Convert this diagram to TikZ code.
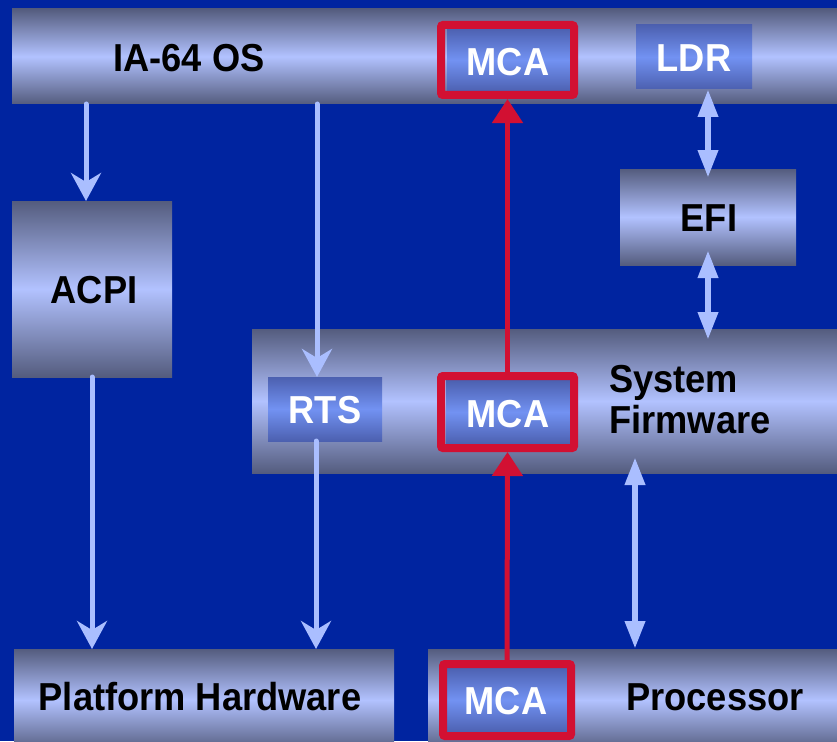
\documentclass[tikz,border=0pt]{standalone}
\usepackage{fontspec}
\setmainfont{Liberation Sans}
\newfontfamily\dfont[FakeStretch=0.93]{Liberation Sans}
\usetikzlibrary{arrows.meta,calc}
\definecolor{bg}{RGB}{0,36,160}
\definecolor{gdark}{RGB}{84,92,126}
\definecolor{glight}{RGB}{178,194,255}
\definecolor{bdark}{RGB}{76,96,176}
\definecolor{blight}{RGB}{114,146,242}
\definecolor{arr}{RGB}{170,190,255}
\definecolor{mcared}{RGB}{210,16,50}
\tikzset{
  sz/.style n args={2}{minimum width=#1pt, minimum height=#2pt},
  greybox/.style={anchor=north west, inner sep=0pt, outer sep=0pt, draw=none,
    top color=gdark, bottom color=gdark, middle color=glight},
  bluebox/.style={anchor=north west, inner sep=0pt, outer sep=0pt, draw=none,
    top color=bdark, bottom color=bdark, middle color=blight},
  redbox/.style={anchor=north west, inner sep=0pt, draw=mcared, line width=8pt, rounded corners=2pt},
  txt/.style={font=\dfont\fontsize{39}{41}\selectfont\bfseries, inner sep=0pt, anchor=base, text=black},
  wtxt/.style={txt, text=white},
  lt/.style={draw=arr, line width=5pt, line cap=round, -{Stealth[length=28pt,width=30pt,inset=9pt]}},
  dbl/.style={draw=arr, line width=6.5pt, {Triangle[length=28pt,width=19pt]}-{Triangle[length=28pt,width=19pt]}},
  redarr/.style={draw=mcared, line width=5pt, -{Triangle[length=24pt,width=30pt]}}
}
\begin{document}
\begin{tikzpicture}[x=1pt, y=-1pt]
\useasboundingbox (0,0) rectangle (837,741);
\fill[bg] (0,0) rectangle (837,741);
% grey boxes
\node[greybox, sz={830}{95}] (os) at (12,9) {};
\node[greybox, sz={160}{176}] (acpi) at (12,201) {};
\node[greybox, sz={176}{96}] (efi) at (620,169) {};
\node[greybox, sz={590}{144}] (sfw) at (252,329) {};
\node[greybox, sz={380}{102}] (ph) at (14,649) {};
\node[greybox, sz={415}{102}] (proc) at (428,649) {};
% blue boxes
\node[bluebox, sz={124}{64}] (mcaTb) at (447,28) {};
\node[bluebox, sz={116}{64}] (ldr) at (636,25) {};
\node[bluebox, sz={114}{64}] (rts) at (268,377) {};
\node[bluebox, sz={124}{64}] (mcaMb) at (446,380) {};
\node[bluebox, sz={123}{66}] (mcaBb) at (446,667) {};
% red outlines
\node[redbox, sz={133}{70}] (mcaT) at (437,21) {};
\node[redbox, sz={133}{72}] (mcaM) at (437,372) {};
\node[redbox, sz={128}{72}] (mcaB) at (439,660) {};
% texts
\node[txt] (tos) at (189,72) {IA-64 OS};
\node[wtxt] (tmcaT) at (508,76) {MCA};
\node[wtxt] (tldr) at (694,72) {LDR};
\node[txt] (tefi) at (709,231) {EFI};
\node[txt] (tacpi) at (94,303) {ACPI};
\node[wtxt] (trts) at (325,423) {RTS};
\node[wtxt] (tmcaM) at (508,427) {MCA};
\node[txt, anchor=base west, align=left] (tsfw) at (609,433) {System\\Firmware};
\node[txt] (tph) at (200,710) {Platform Hardware};
\node[wtxt] (tmcaB) at (506,714) {MCA};
\node[txt] (tproc) at (715,710) {Processor};
% light arrows
\draw[lt] (86,0 |- os.south) -- (86,0 |- acpi.north);
\draw[lt] (92,0 |- acpi.south) -- (92,0 |- ph.north);
\draw[lt] (317,0 |- os.south) -- (317,0 |- rts.north);
\draw[lt] (316,0 |- rts.south) -- (316,0 |- ph.north);
\draw[dbl, shorten >=-9pt] (708,0 |- ldr.south) -- (708,0 |- efi.north);
\draw[dbl, shorten <=-15pt, shorten >=-11pt] (708,0 |- efi.south) -- (708,0 |- sfw.north);
\draw[dbl, shorten <=-16pt] (635,0 |- sfw.south) -- (635,0 |- proc.north);
% red arrows
\draw[redarr] (mcaM.north) -- (mcaT.south);
\draw[redarr] (mcaB.north) -- (mcaM.south);
\end{tikzpicture}
\end{document}
